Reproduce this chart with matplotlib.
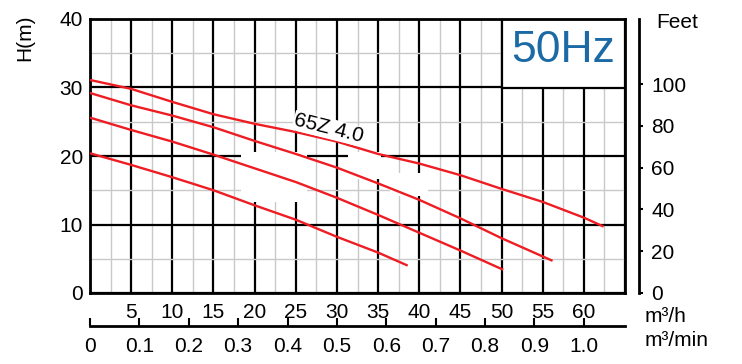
import numpy as np
import matplotlib
matplotlib.use("Agg")
import matplotlib.pyplot as plt
from matplotlib.patches import Rectangle

plt.rcParams['font.family'] = ['Liberation Sans', 'DejaVu Sans']

# ---------------- data ----------------
flow_1 = [0, 5, 10, 15, 20, 25, 30, 35, 40, 45, 50, 55, 60, 62.4]
head_1 = [31.1, 29.8, 27.9, 26.1, 24.7, 23.5, 22.1, 20.3, 18.9, 17.2, 15.2, 13.3, 11.0, 9.7]
flow_2 = [0, 5, 10, 15, 20, 25, 30, 35, 40, 45, 50, 56.2]
head_2 = [29.2, 27.4, 25.9, 24.2, 22.2, 20.3, 18.3, 16.0, 13.6, 10.9, 8.0, 4.7]
flow_3 = [0, 5, 10, 15, 20, 25, 30, 35, 40, 45, 50.2]
head_3 = [25.6, 23.8, 22.1, 20.2, 18.2, 16.2, 13.9, 11.4, 8.8, 6.2, 3.4]
flow_4 = [0, 5, 10, 15, 20, 25, 30, 35, 38.6]
head_4 = [20.4, 18.7, 16.9, 15.0, 12.8, 10.7, 8.2, 5.9, 4.0]

m3h_ticks = [5, 10, 15, 20, 25, 30, 35, 40, 45, 50, 55, 60]
m3min_ticks = [0, 0.1, 0.2, 0.3, 0.4, 0.5, 0.6, 0.7, 0.8, 0.9, 1.0]
m3min_labels = ['0', '0.1', '0.2', '0.3', '0.4', '0.5', '0.6', '0.7', '0.8', '0.9', '1.0']
h_ticks = [0, 10, 20, 30, 40]
feet_ticks = [0, 20, 40, 60, 80, 100]
model_label = '65Z 4.0'
freq_label = '50Hz'

# ---------------- layout ----------------
W, H = 742, 364
fig = plt.figure(figsize=(W / 100, H / 100), dpi=100)
L, B, R, T = 90, 293, 625, 19
ax = fig.add_axes([L / W, (H - B) / H, (R - L) / W, (B - T) / H])

ax.set_xlim(0, 65)
ax.set_ylim(0, 40)
ax.set_axisbelow(True)
ax.set_xticks(np.arange(0, 66, 5))
ax.set_xticklabels([''] + [str(v) for v in m3h_ticks] + [''])
ax.set_xticks(np.arange(2.5, 65, 5), minor=True)
ax.set_yticks(h_ticks)
ax.set_yticklabels([str(v) for v in h_ticks])
ax.set_yticks([5, 15, 25, 35], minor=True)
ax.grid(which='major', color='black', lw=1.6)
ax.grid(which='minor', color='#c9c9c9', lw=1.0)
ax.tick_params(which='both', length=0)
ax.tick_params(axis='x', labelsize=15, pad=7)
ax.tick_params(axis='y', labelsize=15, pad=5)
for s in ax.spines.values():
    s.set_linewidth(2)

# white box for frequency
ax.add_patch(Rectangle((50, 30), 15, 10, facecolor='white', edgecolor='black', lw=1.6, zorder=1))
ax.text(57.5, 35.4, freq_label, fontsize=32, color='#1c6aa5', ha='center', va='center', zorder=2)

# white blotches over the grid
for (x0, y0, w, h) in [(18.4, 13.3, 8.0, 7.3), (31.3, 16.6, 4.0, 4.0), (36.5, 14.1, 4.6, 3.4)]:
    ax.add_patch(Rectangle((x0, y0), w, h, facecolor='white', edgecolor='none', zorder=1))

red = '#ee1d23'
for fx, hy in [(flow_1, head_1), (flow_2, head_2), (flow_3, head_3), (flow_4, head_4)]:
    ax.plot(fx, hy, color=red, lw=1.7, zorder=3, solid_capstyle='butt')

ax.text(29.0, 24.0, model_label, fontsize=15, rotation=-14, ha='center', va='center',
        zorder=4, bbox=dict(facecolor='white', edgecolor='none', pad=0.5))

# feet axis
ax2 = ax.twinx()
ax2.set_ylim(0, 40 * 3.28084)
ax2.set_yticks(feet_ticks)
ax2.set_yticklabels([str(v) for v in feet_ticks])
for k in ['top', 'left', 'bottom']:
    ax2.spines[k].set_visible(False)
ax2.spines['right'].set_position(('outward', 10))
ax2.spines['right'].set_linewidth(2)
ax2.tick_params(axis='y', direction='out', length=3, width=1.5, labelsize=15, pad=6)

# m3/min axis
ax3 = fig.add_axes([L / W, (H - 326) / H, (R - L) / W, 0.0001])
ax3.patch.set_visible(False)
ax3.set_xlim(0, 65 / 60)
for k in ['top', 'left', 'right']:
    ax3.spines[k].set_visible(False)
ax3.spines['bottom'].set_linewidth(2)
ax3.set_yticks([])
ax3.set_xticks(m3min_ticks)
ax3.set_xticklabels(m3min_labels)
ax3.tick_params(axis='x', direction='in', length=6, width=1.5, labelsize=15, pad=8)

fig.text(25 / W, 1 - 38 / H, 'H(m)', rotation=90, fontsize=15, ha='center', va='center')
fig.text(656 / W, 1 - 22 / H, 'Feet', fontsize=15, ha='left', va='center')
fig.text(645 / W, 1 - 316 / H, 'm³/h', fontsize=15, ha='left', va='center')
fig.text(645 / W, 1 - 340 / H, 'm³/min', fontsize=15, ha='left', va='center')

fig.savefig('out.png', dpi=100)
